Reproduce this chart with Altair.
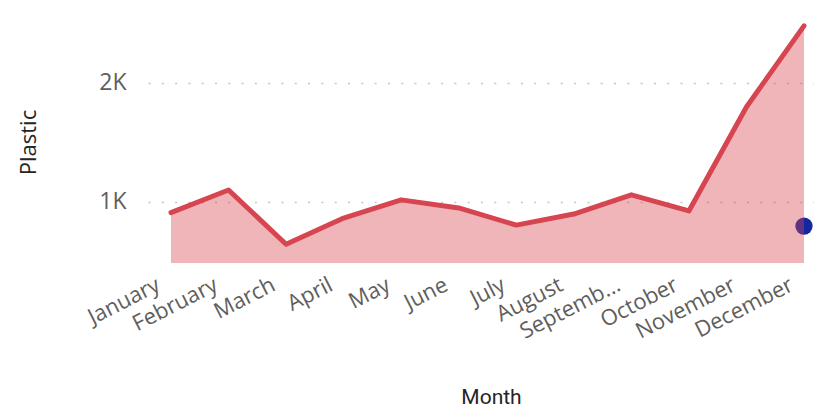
import altair as alt
import pandas as pd

months = ["January", "February", "March", "April", "May", "June", "July",
          "August", "September", "October", "November", "December"]
tick_labels = ["January", "February", "March", "April", "May", "June", "July",
               "August", "Septemb...", "October", "November", "December"]
plastic = [910, 1100, 644, 864, 1017, 949, 805, 898, 1059, 924, 1797, 2478]
marker_month = ["December"]
marker_value = [797]
y_min, y_max = 487, 2544

df = pd.DataFrame({"idx": list(range(len(months))), "Month": months, "Plastic": plastic})
dot = pd.DataFrame({"idx": [months.index(m) for m in marker_month], "Value": marker_value})

W, H = 666, 245
label_expr = "[" + ",".join("'" + t + "'" for t in tick_labels) + "][datum.value]"

x_enc = alt.X(
    "idx:Q",
    scale=alt.Scale(domain=[-0.3996, 11.174], nice=False, zero=False),
    axis=alt.Axis(
        values=list(range(len(months))),
        labelExpr=label_expr,
        labelAngle=-27,
        labelAlign="right",
        labelBaseline="middle",
        labelPadding=20,
        labelOffset=-13,
        labelFontSize=22,
        labelColor="#605E5C",
        labelFont="Open Sans",
        labelOverlap=False,
        labelBound=False,
        labelFlush=False,
        ticks=False,
        domain=False,
        grid=False,
        title="Month",
        titleFont="Roboto",
        titleFontSize=21,
        titleFontWeight="normal",
        titleColor="#252423",
        titleX=343,
        titleY=140,
        titleBaseline="alphabetic",
        titleAnchor="middle",
    ),
)

y_scale = alt.Scale(domain=[y_min, y_max], nice=False, zero=False)

area = alt.Chart(df).mark_area(color="#D64550", opacity=0.4).encode(
    x=x_enc,
    y=alt.Y(
        "Plastic:Q",
        scale=y_scale,
        axis=alt.Axis(
            values=[1000, 2000],
            labelExpr="datum.value / 1000 + 'K'",
            labelFontSize=23,
            labelColor="#605E5C",
            labelFont="Open Sans",
            labelPadding=22,
            ticks=False,
            domain=False,
            grid=True,
            gridColor="#C8C6C4",
            gridDash=[2, 11.3],
            gridWidth=1.5,
            title="Plastic",
            titleFont="Open Sans",
            titleFontSize=22,
            titleFontWeight="normal",
            titleColor="#252423",
            titleX=-120,
            titleY=124,
            titleBaseline="middle",
        ),
    ),
    y2=alt.datum(y_min),
)

line = alt.Chart(df).mark_line(color="#D64550", strokeWidth=5, strokeCap="round", strokeJoin="round").encode(
    x="idx:Q",
    y="Plastic:Q",
)

point = alt.Chart(dot).mark_circle(color="#1227A0", opacity=1, size=300).encode(
    x="idx:Q",
    y=alt.Y("Value:Q", scale=y_scale),
)

chart = alt.layer(point, area, line).properties(
    width=W,
    height=H,
    autosize=alt.AutoSizeParams(type="none"),
    padding={"left": 140, "top": 10, "right": 0, "bottom": 145},
).configure_view(stroke=None)

chart.save("out.html", embed_options={"renderer": "svg", "actions": False})
